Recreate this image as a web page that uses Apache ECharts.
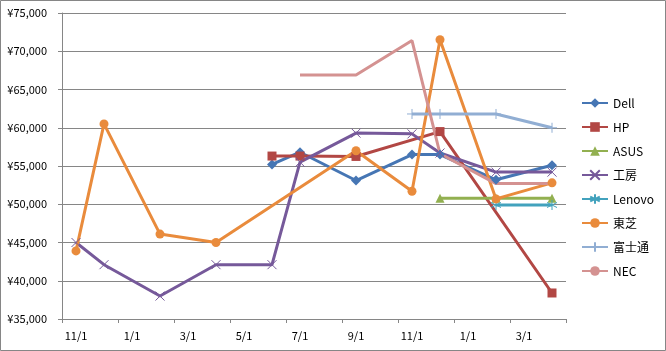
<!DOCTYPE html>
<html>
<head>
<meta charset="utf-8">
<script src="https://cdn.jsdelivr.net/npm/echarts@6/dist/echarts.min.js"></script>
<style>
  html, body { margin: 0; padding: 0; background: #fff; }
  #main { width: 666px; height: 351px; }
</style>
</head>
<body>
<div id="main"></div>
<script>
// months (Nov 2011 - Apr 2013), one slot per month
var months = ['11/1', '12/1', '1/1', '2/1', '3/1', '4/1', '5/1', '6/1', '7/1', '8/1', '9/1', '10/1', '11/1', '12/1', '1/1', '2/1', '3/1', '4/1'];

var dell    = [null, null, null, null, null, null, null, 55200, 56800, null, 53100, null, 56500, 56500, null, 53200, null, 55100];
var hp      = [null, null, null, null, null, null, null, 56300, 56300, null, 56250, null, null, 59500, null, null, null, 38400];
var asus    = [null, null, null, null, null, null, null, null, null, null, null, null, null, 50800, null, 50800, null, 50800];
var koubou  = [45000, 42100, null, 38000, null, 42100, null, 42100, 55500, null, 59300, null, 59200, 56700, null, 54200, null, 54200];
var lenovo  = [null, null, null, null, null, null, null, null, null, null, null, null, null, null, null, 49900, null, 49900];
var toshiba = [43900, 60500, null, 46100, null, 45000, null, null, null, null, 57000, null, 51700, 71500, null, 50700, null, 52800];
var fujitsu = [null, null, null, null, null, null, null, null, null, null, null, null, 61800, 61800, null, 61800, null, 60000];
var nec     = [null, null, null, null, null, null, null, null, 66900, null, 66900, null, 71400, 56600, null, 52700, null, 52700];

var yMin = 35000;
var yMax = 75000;
var yStep = 5000;

var font = '"Noto Sans CJK JP", "Noto Sans", sans-serif';

function line(name, data, color, symbol, size, stroked) {
  return {
    name: name,
    type: 'line',
    data: data,
    connectNulls: true,
    showAllSymbol: true,
    symbol: symbol,
    symbolSize: size,
    color: color,
    lineStyle: { width: 3, color: color },
    itemStyle: stroked ? { color: color, borderColor: color, borderWidth: 1 } : { color: color },
    emphasis: { disabled: true },
    animation: false
  };
}

var chart = echarts.init(document.getElementById('main'));
chart.setOption({
  backgroundColor: '#fff',
  textStyle: { fontFamily: font },
  graphic: [{
    type: 'rect',
    shape: { x: 0.5, y: 0.5, width: 665, height: 350 },
    style: { fill: 'none', stroke: '#868686', lineWidth: 1 },
    silent: true
  }],
  legend: {
    orient: 'vertical',
    left: 576,
    top: 92,
    itemWidth: 26,
    itemHeight: 12,
    itemGap: 12,
    textStyle: { fontFamily: font, fontSize: 12, color: '#000' },
    data: ['Dell', 'HP', 'ASUS', '工房', 'Lenovo', '東芝', '富士通', 'NEC']
  },
  grid: {
    left: 62,
    right: 100,
    top: 13,
    bottom: 32
  },
  xAxis: {
    type: 'category',
    data: months,
    boundaryGap: true,
    axisLine: { lineStyle: { color: '#868686', width: 1 } },
    axisTick: { show: true, interval: 1, length: 4, lineStyle: { color: '#868686' } },
    axisLabel: { interval: 1, margin: 11, fontSize: 11, color: '#000', fontFamily: font },
    splitLine: { show: false }
  },
  yAxis: {
    type: 'value',
    min: yMin,
    max: yMax,
    interval: yStep,
    axisLine: { show: true, lineStyle: { color: '#868686', width: 1 } },
    axisTick: { show: true, length: 4, lineStyle: { color: '#868686' } },
    axisLabel: {
      margin: 15,
      fontSize: 11,
      color: '#000',
      fontFamily: font,
      formatter: function (v) {
        return '¥' + v.toString().replace(/\B(?=(\d{3})+(?!\d))/g, ',');
      }
    },
    splitLine: { lineStyle: { color: '#868686', width: 1 } }
  },
  series: [
    line('Dell', dell, '#4676b4', 'diamond', 10, false),
    line('HP', hp, '#b24744', 'rect', 9, false),
    line('ASUS', asus, '#92b050', 'triangle', 9, false),
    line('工房', koubou, '#76599a', 'path://M0,0L10,10M10,0L0,10', 9, true),
    line('Lenovo', lenovo, '#42a2bd', 'path://M5,0L5,10M0,2.5L10,7.5M0,7.5L10,2.5', 10, true),
    line('東芝', toshiba, '#e98b3c', 'circle', 9, false),
    line('富士通', fujitsu, '#91aed3', 'path://M5,0L5,10M0,5L10,5', 10, true),
    line('NEC', nec, '#d49291', 'none', 0, false)
  ]
});
</script>
</body>
</html>
